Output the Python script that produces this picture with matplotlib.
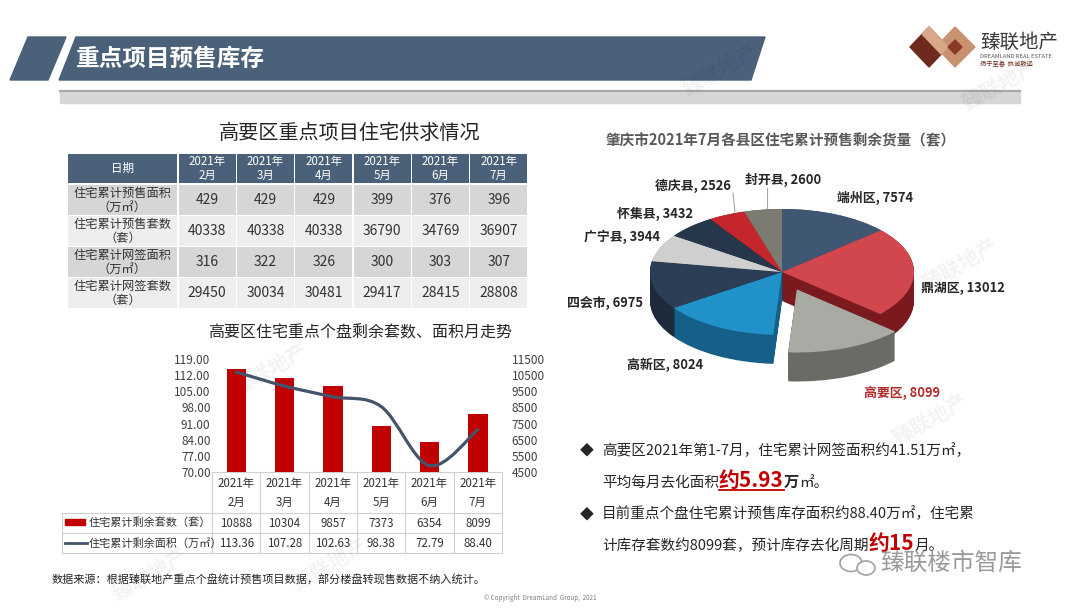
import numpy as np
import matplotlib.pyplot as plt
from matplotlib.patches import Polygon, Rectangle, PathPatch, Ellipse
from matplotlib.path import Path

plt.rcParams['font.family'] = ['Noto Sans CJK SC', 'DejaVu Sans']

# ---- data ----
table_months = ['2021年\n2月', '2021年\n3月', '2021年\n4月', '2021年\n5月', '2021年\n6月', '2021年\n7月']
table_rows = ['住宅累计预售面积\n（万㎡）', '住宅累计预售套数\n（套）',
              '住宅累计网签面积\n（万㎡）', '住宅累计网签套数\n（套）']
presale_area = [429, 429, 429, 399, 376, 396]
presale_units = [40338, 40338, 40338, 36790, 34769, 36907]
signed_area = [316, 322, 326, 300, 303, 307]
signed_units = [29450, 30034, 30481, 29417, 28415, 28808]

remain_units = [10888, 10304, 9857, 7373, 6354, 8099]
remain_area = [113.36, 107.28, 102.63, 98.38, 72.79, 88.40]
left_ticks = [70, 77, 84, 91, 98, 105, 112, 119]
right_ticks = [4500, 5500, 6500, 7500, 8500, 9500, 10500, 11500]

districts = ['端州区', '鼎湖区', '高要区', '高新区', '四会市', '广宁县', '怀集县', '德庆县', '封开县']
district_units = [7574, 13012, 8099, 8024, 6975, 3944, 3432, 2526, 2600]

# ---- styles ----
top_colors = ['#3f5773', '#d2474d', '#a9aaa4', '#2191c9', '#2c3e56', '#cfcfcf', '#27374b', '#c5262b', '#7b7b72']
side_colors = ['#2a3c52', '#7b1a1e', '#6b6b66', '#155f88', '#1d2a3a', '#9a9a9a', '#1a2533', '#8a161a', '#55554f']
explode = [0, 0, 0.3, 0, 0, 0, 0, 0, 0]
label_pos = [(875, 198), (963, 288), (902, 393), (665, 365), (605, 303),
             (622, 237), (655, 214), (693, 186), (783, 180)]
slate = '#4b6079'
bar_red = '#c00000'
line_col = '#44546a'

W, H = 1080, 608
fig = plt.figure(figsize=(W / 100, H / 100), dpi=100)
fig.patch.set_facecolor('white')


def px_axes(x0, y0, x1, y1):
    return fig.add_axes([x0 / W, 1 - y1 / H, (x1 - x0) / W, (y1 - y0) / H])


bg = px_axes(0, 0, W, H)
bg.set_xlim(0, W)
bg.set_ylim(H, 0)
bg.axis('off')

# faint watermarks
for wx, wy in [(720, 70), (1000, 85), (960, 265), (270, 370), (930, 420), (150, 575), (330, 565)]:
    bg.text(wx, wy, '臻联地产', rotation=30, fontsize=15, color='#000000', alpha=0.05,
            ha='center', va='center', fontweight='bold')

# header banner
bg.add_patch(Polygon([(28, 37), (66, 37), (48, 80), (10, 80)], color=slate))
bg.add_patch(Polygon([(76, 37), (765, 37), (751, 80), (59, 80)], color=slate))
bg.text(76, 59, '重点项目预售库存', color='white', fontsize=17, fontweight='bold', va='center')
bg.add_patch(Rectangle((60, 90), 960, 13, color='#d5d6d8'))
bg.plot([60, 1020], [90.5, 90.5], color='#a8a8a8', lw=1.5)

# logo
bg.add_patch(Polygon([(910, 47), (929, 27), (948, 47), (929, 67)], color='#6e2a1c'))
bg.add_patch(Polygon([(936, 47), (955, 27), (975, 47), (955, 67)], color='#c8916f'))
bg.add_patch(Polygon([(929, 27), (948, 47), (941, 54), (922, 34)], color='#d9a889'))
bg.add_patch(Polygon([(948, 47), (955, 40), (962, 47), (955, 54)], color='#8a3a26'))
bg.text(980, 42, '臻联地产', fontsize=14, color='#3a3a3a', va='center')
bg.text(980, 57, 'DREAMLAND REAL ESTATE', fontsize=4.2, color='#555555', va='center')
bg.text(980, 64, '扬于至善  执诚致远', fontsize=4.5, color='#6e2a1c', va='center')

# ---- top table ----
bg.text(350, 133, '高要区重点项目住宅供求情况', fontsize=14.5, color='#262626', ha='center', va='center')
col_edges = [67, 178] + [178 + 58.33 * (i + 1) for i in range(6)]
row_edges = [(154, 183), (185, 215), (216, 246), (247, 277), (278, 308)]
row_fill = ['#d6d6d6', '#eeeeee', '#d6d6d6', '#eeeeee']
rows_vals = [presale_area, presale_units, signed_area, signed_units]
for ci in range(7):
    x0, x1 = col_edges[ci], col_edges[ci + 1]
    for ri, (y0, y1) in enumerate(row_edges):
        fc = slate if ri == 0 else row_fill[ri - 1]
        bg.add_patch(Rectangle((x0 + 0.7, y0), x1 - x0 - 1.4, y1 - y0, color=fc, lw=0))
        cx, cy = (x0 + x1) / 2, (y0 + y1) / 2
        if ri == 0:
            txt = '日期' if ci == 0 else table_months[ci - 1]
            bg.text(cx, cy, txt, color='white', fontsize=8.3, ha='center', va='center', linespacing=1.15)
        elif ci == 0:
            bg.text(cx, cy, table_rows[ri - 1], color='#333333', fontsize=8.8, ha='center', va='center',
                    linespacing=1.1)
        else:
            bg.text(cx, cy, str(rows_vals[ri - 1][ci - 1]), color='#333333', fontsize=10, ha='center',
                    va='center')

# ---- bar + line chart ----
bg.text(360, 333, '高要区住宅重点个盘剩余套数、面积月走势', fontsize=11.5, color='#262626', ha='center', va='center')
ax = px_axes(212, 359, 502, 472)
ax2 = ax.twinx()
xs = np.arange(len(remain_units))
ax2.bar(xs, remain_units, width=0.4, color=bar_red)
ax2.set_ylim(4500, 11500)
ax2.set_yticks(right_ticks)
ax2.set_yticklabels([str(v) for v in right_ticks])

# smoothed line (Excel-style Bezier through the data points)
pts = np.column_stack([xs, remain_area]).astype(float)
verts = [tuple(pts[0])]
codes = [Path.MOVETO]
n = len(pts)
for i in range(n - 1):
    p_prev = pts[i - 1] if i > 0 else pts[i]
    p_next2 = pts[i + 2] if i + 2 < n else pts[i + 1]
    c1 = pts[i] + (pts[i + 1] - p_prev) / 6
    c2 = pts[i + 1] - (p_next2 - pts[i]) / 6
    verts += [tuple(c1), tuple(c2), tuple(pts[i + 1])]
    codes += [Path.CURVE4] * 3
ax.add_patch(PathPatch(Path(verts, codes), fill=False, edgecolor=line_col, lw=2.3, capstyle='round'))
ax.set_ylim(70, 119)
ax.set_yticks(left_ticks)
ax.set_yticklabels([f'{v:.2f}' for v in left_ticks])
ax.set_xlim(-0.5, 5.5)
ax2.set_xlim(-0.5, 5.5)
ax.set_zorder(ax2.get_zorder() + 1)
ax.patch.set_visible(False)
for a in (ax, ax2):
    for s in a.spines.values():
        s.set_visible(False)
    a.set_xticks([])
ax.tick_params(axis='y', length=0, pad=1, labelsize=8.5, labelcolor='#404040')
ax2.tick_params(axis='y', length=0, pad=7, labelsize=8.5, labelcolor='#404040')

# data table under the chart
grid_c = '#d0d0d0'
cw = (502 - 212) / 6
for i in range(7):
    bg.plot([212 + i * cw] * 2, [472, 553], color=grid_c, lw=0.8)
bg.plot([212, 502], [472, 472], color=grid_c, lw=0.8)
for yy in (513, 533, 553):
    bg.plot([62, 502], [yy, yy], color=grid_c, lw=0.8)
bg.plot([62, 62], [513, 553], color=grid_c, lw=0.8)
for i in range(6):
    cx = 212 + (i + 0.5) * cw
    bg.text(cx, 493, table_months[i], fontsize=8.3, color='#333333', ha='center', va='center', linespacing=1.55)
    bg.text(cx, 523.5, str(remain_units[i]), fontsize=8.3, color='#333333', ha='center', va='center')
    bg.text(cx, 543.5, f'{remain_area[i]:.2f}', fontsize=8.3, color='#333333', ha='center', va='center')
bg.add_patch(Rectangle((65, 519), 20, 6, color=bar_red))
bg.text(89, 523, '住宅累计剩余套数（套）', fontsize=8, color='#333333', va='center')
bg.plot([65, 87], [543, 543], color=line_col, lw=2)
bg.text(89, 543, '住宅累计剩余面积（万㎡）', fontsize=8, color='#333333', va='center')

# ---- 3D-looking pie ----
bg.text(781, 140, '肇庆市2021年7月各县区住宅累计预售剩余货量（套）', fontsize=10.5, fontweight='bold',
        color='#595959', ha='center', va='center')
pax = px_axes(620, 160, 960, 400)
depth = 0.46
n_layers = 30
for k in range(n_layers):
    off = depth * (1 - k / (n_layers - 1))
    pax.pie(district_units, colors=side_colors, startangle=90, counterclock=False, explode=explode,
            center=(0, -off), radius=1, wedgeprops=dict(linewidth=0))
pax.pie(district_units, colors=top_colors, startangle=90, counterclock=False, explode=explode,
        center=(0, 0), radius=1, wedgeprops=dict(linewidth=0))
pax.set_aspect('auto')
pax.set_xlim((620 - 782) / 132, (960 - 782) / 132)
pax.set_ylim(-(400 - 272) / 63, (272 - 160) / 63)
pax.axis('off')

fg = px_axes(0, 0, W, H)
fg.set_xlim(0, W)
fg.set_ylim(H, 0)
fg.axis('off')
fg.patch.set_visible(False)

for name, val, (lx, ly) in zip(districts, district_units, label_pos):
    col = '#b22a2a' if name == '高要区' else '#262626'
    fg.text(lx, ly, f'{name}, {val}', fontsize=9.3, fontweight='bold', color=col, ha='center', va='center')
fg.plot([733, 735], [193, 212], color='#a6a6a6', lw=0.8)
fg.plot([767, 767], [188, 208], color='#a6a6a6', lw=0.8)

# ---- bullet text ----
renderer = fig.canvas.get_renderer()


def runs(x, y, parts):
    spans = []
    for s, kw in parts:
        t = fg.text(x, y, s, va='baseline', ha='left', **kw)
        bb = t.get_window_extent(renderer=renderer)
        spans.append((x, x + bb.width))
        x += bb.width
    return spans


norm = dict(fontsize=10.5, color='#262626')
red_b = dict(fontsize=15, color='#c00000', fontweight='bold')
fg.text(580, 455, '◆', fontsize=10, color='#262626', va='baseline')
runs(602, 455, [('高要区2021年第1-7月，住宅累计网签面积约41.51万㎡，', norm)])
sp = runs(602, 487, [('平均每月去化面积', norm), ('约5.93', red_b),
                     ('万', dict(fontsize=11, color='#262626', fontweight='bold')), ('㎡。', norm)])
fg.plot([sp[1][0], sp[1][1]], [490, 490], color='#c00000', lw=1.3)
fg.text(580, 518, '◆', fontsize=10, color='#262626', va='baseline')
runs(602, 518, [('目前重点个盘住宅累计预售库存面积约88.40万㎡，住宅累', norm)])
runs(602, 550, [('计库存套数约8099套，预计库存去化周期', norm), ('约15', red_b), ('月。', norm)])

# wechat watermark
fg.add_patch(Ellipse((851, 563), 22, 17, fill=False, ec='#a0a0a0', lw=1.2))
fg.add_patch(Ellipse((866, 568), 18, 14, fill=True, fc='white', ec='#a0a0a0', lw=1.2))
fg.text(880, 563, '臻联楼市智库', fontsize=17, color='#9a9a9a', va='center')

# footer
fg.text(52, 580, '数据来源：根据臻联地产重点个盘统计预售项目数据，部分楼盘转现售数据不纳入统计。', fontsize=8,
        color='#262626', va='center')
fg.text(540, 598, '© Copyright  DreamLand  Group,  2021', fontsize=4.5, color='#7f7f7f', ha='center', va='center')

fig.savefig('out.png', dpi=100, facecolor='white')
